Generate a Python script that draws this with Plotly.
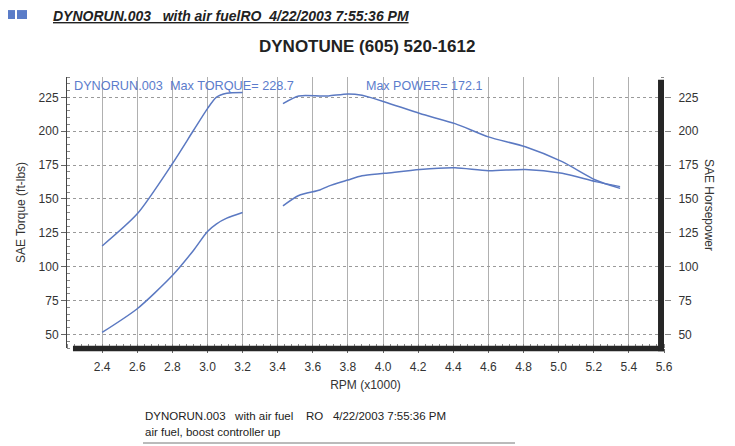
import plotly.graph_objects as go

# ---- data ----
rpm_seg1 = [2.40, 2.60, 2.80, 2.92, 3.00, 3.05, 3.11, 3.20]
torque_seg1 = [115.3, 139.0, 176.0, 200.5, 216.7, 225.0, 228.0, 228.5]
power_seg1 = [51.5, 69.0, 93.5, 112.0, 126.0, 131.5, 135.8, 140.0]

rpm_seg2 = [3.43, 3.52, 3.64, 3.69, 3.80, 3.88, 4.01, 4.21, 4.41, 4.60, 4.81, 5.02, 5.21, 5.35]
torque_seg2 = [220.4, 226.0, 226.0, 226.0, 227.5, 226.5, 221.6, 213.0, 205.6, 195.8, 188.5, 177.5, 164.0, 157.8]
power_seg2 = [144.9, 152.5, 156.6, 159.5, 164.0, 167.1, 168.9, 171.8, 173.0, 170.8, 171.8, 168.9, 162.8, 159.1]

x_ticks = [2.4, 2.6, 2.8, 3.0, 3.2, 3.4, 3.6, 3.8, 4.0, 4.2, 4.4, 4.6, 4.8, 5.0, 5.2, 5.4, 5.6]
y_ticks = [50, 75, 100, 125, 150, 175, 200, 225]

LINE = "#5b79c2"
TXT = "#333333"
FONT = "Liberation Sans, Arial, sans-serif"
OFF = 8  # page body margin offset

fig = go.Figure()
for xs, ys in [(rpm_seg1, torque_seg1), (rpm_seg2, torque_seg2)]:
    fig.add_trace(go.Scatter(x=xs, y=ys, mode="lines", line=dict(color=LINE, width=1.5, shape="spline", smoothing=0.7),
                             showlegend=False, hoverinfo="skip"))
for xs, ys in [(rpm_seg1, power_seg1), (rpm_seg2, power_seg2)]:
    fig.add_trace(go.Scatter(x=xs, y=ys, mode="lines", yaxis="y2",
                             line=dict(color=LINE, width=1.5, shape="spline", smoothing=0.7),
                             showlegend=False, hoverinfo="skip"))

fig.update_layout(
    width=735, height=446,
    margin=dict(l=67 - OFF, r=71 + OFF, t=77 - OFF, b=98 + OFF, autoexpand=False),
    paper_bgcolor="white", plot_bgcolor="white",
    font=dict(family=FONT, size=12, color=TXT),
    xaxis=dict(range=[2.2, 5.6], tickvals=x_ticks, tickformat=".1f", automargin=False,
               showgrid=True, gridcolor="#b0b0b0", gridwidth=1,
               showline=False, zeroline=False, ticks="outside", ticklen=4, tickcolor="#666",
               tickfont=dict(size=12, color=TXT), ticklabelstandoff=4,
               title=dict(text="RPM (x1000)", font=dict(size=12, color=TXT), standoff=7),
               minor=dict(dtick=0.04, ticks="inside", ticklen=4, tickcolor="#888", showgrid=False)),
    yaxis=dict(range=[40, 240], tickvals=y_ticks, automargin=False,
               showgrid=True, gridcolor="#9a9a9a", griddash="dot", gridwidth=1,
               showline=True, linecolor="#444", linewidth=1, zeroline=False,
               ticks="outside", ticklen=5, tickcolor="#666",
               tickfont=dict(size=12, color=TXT),
               title=dict(text="SAE Torque (ft-lbs)", font=dict(size=12, color=TXT), standoff=10),
               minor=dict(dtick=5, ticks="inside", ticklen=3, tickcolor="#888", showgrid=False)),
    yaxis2=dict(range=[40, 240], tickvals=y_ticks, overlaying="y", side="right", automargin=False,
                showgrid=False, showline=False, zeroline=False,
                ticks="outside", ticklen=6, tickcolor="#888",
                tickfont=dict(size=12, color=TXT), ticklabelstandoff=5,
                minor=dict(dtick=5, ticks="inside", ticklen=3, tickcolor="#888")),
)

# scan-style heavy borders on bottom and right
fig.add_shape(type="rect", xref="paper", yref="paper", x0=0.01, x1=1.0, y0=-0.012, y1=0.008,
              fillcolor="#262626", line=dict(width=0))
fig.add_shape(type="rect", xref="paper", yref="paper", x0=0.99, x1=1.0, y0=-0.012, y1=0.99,
              fillcolor="#262626", line=dict(width=0))

# header blue squares
fig.add_shape(type="rect", xref="paper", yref="paper", x0=-0.1039, x1=-0.0871, y0=1.214, y1=1.247,
              fillcolor="#5a7cc8", line=dict(width=0))
fig.add_shape(type="rect", xref="paper", yref="paper", x0=-0.0838, x1=-0.0670, y0=1.214, y1=1.247,
              fillcolor="#5a7cc8", line=dict(width=0))

# bottom rule line
fig.add_shape(type="line", xref="paper", yref="paper", x0=(143 - 67) / 597, x1=(515 - 67) / 597,
              y0=(348 - 443) / 271, y1=(348 - 443) / 271, line=dict(color="#777", width=1))

def px_x(p):
    return (p - 67) / 597

def px_y(p):
    return (348 - p) / 271

annos = [
    dict(text="<b><i><u>DYNORUN.003   with air fuelRO  4/22/2003 7:55:36 PM</u></i></b>",
         x=px_x(52), y=px_y(16), xanchor="left", yanchor="middle", borderpad=0,
         font=dict(size=14, color="#222")),
    dict(text="<b>DYNOTUNE (605) 520-1612</b>", x=px_x(367), y=px_y(47), xanchor="center", yanchor="middle",
         font=dict(size=17, color="#222")),
    dict(text="DYNORUN.003  Max TORQUE= 228.7", x=px_x(72), y=px_y(86), xanchor="left", yanchor="middle",
         font=dict(size=12.7, color="#5b7ccc")),
    dict(text="Max POWER= 172.1", x=px_x(364), y=px_y(86), xanchor="left", yanchor="middle",
         font=dict(size=12.5, color="#5b7ccc")),
    dict(text="SAE Horsepower", x=px_x(709), y=px_y(205), xanchor="center", yanchor="middle",
         textangle=90, font=dict(size=12, color=TXT)),
    dict(text="DYNORUN.003   with air fuel    RO   4/22/2003 7:55:36 PM", x=px_x(143), y=px_y(416),
         xanchor="left", yanchor="middle", font=dict(size=11.5, color="#222")),
    dict(text="air fuel, boost controller up", x=px_x(143), y=px_y(432),
         xanchor="left", yanchor="middle", font=dict(size=11.5, color="#222")),
]
for a in annos:
    fig.add_annotation(xref="paper", yref="paper", showarrow=False, **a)

fig.write_html("out.html")
